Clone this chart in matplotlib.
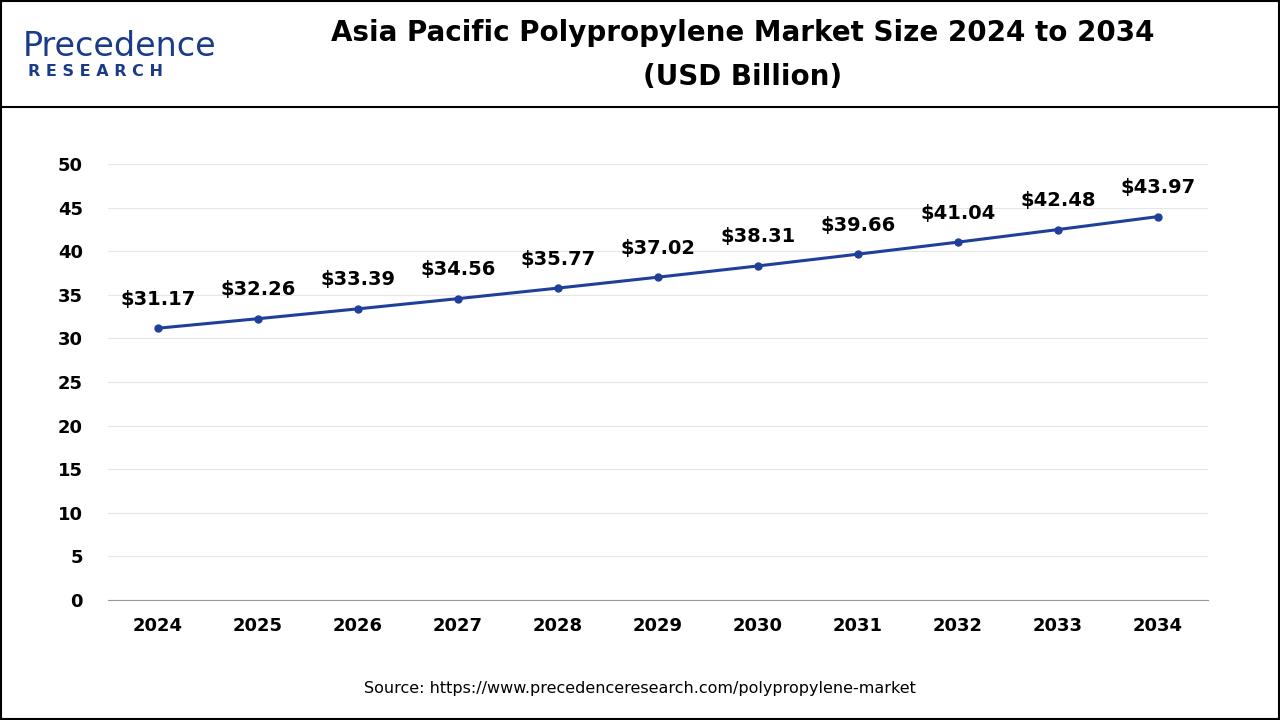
import matplotlib
matplotlib.use("Agg")
import matplotlib.pyplot as plt
from matplotlib.lines import Line2D
from matplotlib.patches import Rectangle

years = ["2024","2025","2026","2027","2028","2029","2030","2031","2032","2033","2034"]
values = [31.17,32.26,33.39,34.56,35.77,37.02,38.31,39.66,41.04,42.48,43.97]
yticks = [0,5,10,15,20,25,30,35,40,45,50]

fig = plt.figure(figsize=(12.8,7.2), dpi=100)
fig.patches.append(Rectangle((0.001,0.001),0.998,0.998,transform=fig.transFigure,fill=False,edgecolor="black",lw=1.5))
fig.add_artist(Line2D([0,1],[1-107/720]*2,transform=fig.transFigure,color="black",lw=1.5))

fig.text(0.58,1-33/720,"Asia Pacific Polypropylene Market Size 2024 to 2034",ha="center",va="center",fontsize=20,fontweight="bold",family="DejaVu Sans")
fig.text(0.58,1-77/720,"(USD Billion)",ha="center",va="center",fontsize=20,fontweight="bold",family="DejaVu Sans")
fig.text(0.018,1-47/720,"Precedence",ha="left",va="center",fontsize=24,color="#1a3a8a",family="DejaVu Sans")
fig.text(0.022,1-72/720,"R E S E A R C H",ha="left",va="center",fontsize=11.5,color="#1a3a8a",fontweight="bold",family="DejaVu Sans")

ax = fig.add_axes([108/1280,120/720,1100/1280,436/720])
x = list(range(len(years)))
ax.plot(x,values,color="#1f3f9a",lw=2.2,marker="o",ms=5)
for xi,v in zip(x,values):
    ax.annotate(f"${v:.2f}",(xi,v),xytext=(0,14),textcoords="offset points",ha="center",va="bottom",fontsize=14,fontweight="bold")
ax.set_xlim(-0.5,10.5)
ax.set_ylim(0,50)
ax.set_yticks(yticks)
ax.set_xticks(x)
ax.set_xticklabels(years)
ax.grid(axis="y",color="#e6e6e6",lw=0.8)
ax.set_axisbelow(True)
for s in ["top","right","left"]:
    ax.spines[s].set_visible(False)
ax.spines["bottom"].set_color("#999999")
ax.tick_params(length=0,labelsize=13,pad=12)
for t in ax.get_xticklabels()+ax.get_yticklabels():
    t.set_fontweight("bold")
ax.tick_params(axis="y",pad=18)

fig.text(0.5,1-689/720,"Source: https://www.precedenceresearch.com/polypropylene-market",ha="center",va="center",fontsize=11.5)
fig.savefig("out.png",dpi=100)
